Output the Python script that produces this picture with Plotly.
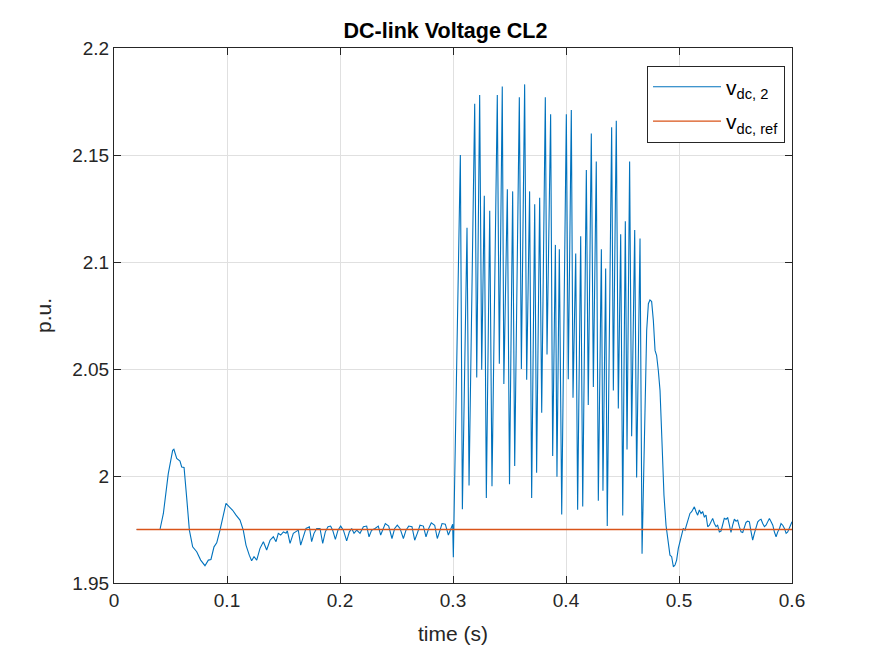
import plotly.graph_objects as go

# v_dc,2 samples (time in s, voltage in p.u.)
t_vdc2 = [
    0.0200, 0.0407, 0.0437, 0.0480, 0.0519, 0.0530, 0.0555, 0.0584, 0.0599, 0.0620,
    0.0643, 0.0667, 0.0696, 0.0732, 0.0767, 0.0805, 0.0835, 0.0858, 0.0885, 0.0909,
    0.0938, 0.0967, 0.0991, 0.1020, 0.1050, 0.1080, 0.1115, 0.1144, 0.1168, 0.1197,
    0.1218, 0.1239, 0.1263, 0.1292, 0.1322, 0.1351, 0.1381, 0.1410, 0.1434, 0.1454,
    0.1475, 0.1499, 0.1522, 0.1534, 0.1558, 0.1587, 0.1611, 0.1631, 0.1652, 0.1676,
    0.1699, 0.1729, 0.1749, 0.1770, 0.1794, 0.1823, 0.1847, 0.1870, 0.1894, 0.1917,
    0.1935, 0.1959, 0.1982, 0.2006, 0.2030, 0.2059, 0.2083, 0.2103, 0.2124, 0.2148,
    0.2177, 0.2207, 0.2236, 0.2257, 0.2280, 0.2310, 0.2339, 0.2360, 0.2378, 0.2401,
    0.2431, 0.2460, 0.2484, 0.2507, 0.2531, 0.2561, 0.2584, 0.2608, 0.2637, 0.2661,
    0.2684, 0.2708, 0.2738, 0.2761, 0.2785, 0.2808, 0.2838, 0.2861, 0.2885, 0.2903,
    0.2932, 0.2959, 0.2979, 0.2997, 0.3003,
    0.3065, 0.3083, 0.3124, 0.3142, 0.3192, 0.3210, 0.3236, 0.3254, 0.3277, 0.3295,
    0.3325, 0.3345, 0.3392, 0.3410, 0.3436, 0.3450, 0.3481, 0.3500, 0.3528, 0.3546,
    0.3587, 0.3605, 0.3634, 0.3652, 0.3678, 0.3696, 0.3723, 0.3740, 0.3767, 0.3785,
    0.3817, 0.3832, 0.3864, 0.3882, 0.3906, 0.3920, 0.3941, 0.3962, 0.4003, 0.4020,
    0.4047, 0.4062, 0.4086, 0.4103, 0.4130, 0.4148, 0.4180, 0.4197, 0.4224, 0.4242,
    0.4268, 0.4286, 0.4313, 0.4327, 0.4351, 0.4365, 0.4404, 0.4419, 0.4445, 0.4463,
    0.4484, 0.4502, 0.4525, 0.4540, 0.4563, 0.4581, 0.4608, 0.4625, 0.4655, 0.4673,
    0.4690, 0.4714, 0.4729, 0.4743, 0.4758, 0.4773, 0.4788, 0.4802, 0.4817, 0.4832,
    0.4848, 0.4867, 0.4885, 0.4906, 0.4920, 0.4935, 0.4950, 0.4965, 0.4979, 0.4994,
    0.5009, 0.5024, 0.5038, 0.5053, 0.5068, 0.5083, 0.5097, 0.5112, 0.5127, 0.5136,
    0.5151, 0.5165, 0.5180, 0.5195, 0.5210, 0.5224, 0.5239, 0.5254, 0.5269, 0.5283,
    0.5298, 0.5313, 0.5328, 0.5342, 0.5357, 0.5372, 0.5387, 0.5401, 0.5416, 0.5431,
    0.5446, 0.5460, 0.5475, 0.5490, 0.5505, 0.5519, 0.5534, 0.5549, 0.5564, 0.5578,
    0.5593, 0.5608, 0.5623, 0.5638, 0.5652, 0.5667, 0.5682, 0.5697, 0.5711, 0.5726,
    0.5741, 0.5756, 0.5770, 0.5785, 0.5800, 0.5815, 0.5830, 0.5844, 0.5859, 0.5874,
    0.5889, 0.5903, 0.5918, 0.5933, 0.5948, 0.5962, 0.5977, 0.5992, 0.6000,
]
v_vdc2 = [
    1.9750, 1.9750, 1.9825, 2.0010, 2.0120, 2.0125, 2.0082, 2.0070, 2.0042, 2.0040,
    1.9900, 1.9747, 1.9669, 1.9646, 1.9607, 1.9581, 1.9607, 1.9610, 1.9669, 1.9688,
    1.9747, 1.9825, 1.9872, 1.9856, 1.9840, 1.9817, 1.9794, 1.9747, 1.9677, 1.9630,
    1.9604, 1.9623, 1.9607, 1.9662, 1.9693, 1.9654, 1.9700, 1.9716, 1.9693, 1.9732,
    1.9724, 1.9739, 1.9732, 1.9744, 1.9685, 1.9732, 1.9739, 1.9747, 1.9677, 1.9716,
    1.9755, 1.9763, 1.9693, 1.9732, 1.9755, 1.9755, 1.9685, 1.9739, 1.9763, 1.9766,
    1.9747, 1.9704, 1.9747, 1.9766, 1.9747, 1.9697, 1.9739, 1.9755, 1.9732, 1.9747,
    1.9732, 1.9763, 1.9766, 1.9716, 1.9747, 1.9755, 1.9766, 1.9724, 1.9747, 1.9778,
    1.9766, 1.9708, 1.9755, 1.9770, 1.9755, 1.9708, 1.9747, 1.9766, 1.9763, 1.9700,
    1.9732, 1.9770, 1.9766, 1.9716, 1.9755, 1.9781, 1.9770, 1.9708, 1.9747, 1.9778,
    1.9775, 1.9724, 1.9750, 1.9775, 1.9620,
    2.1500, 1.9845, 2.1160, 1.9956, 2.1740, 2.0460, 2.1780, 2.0497, 2.1310, 1.9897,
    2.1240, 1.9952, 2.1780, 2.0525, 2.1820, 2.0430, 2.1340, 1.9962, 2.1330, 2.0047,
    2.1770, 2.0500, 2.1830, 2.0450, 2.1330, 1.9897, 2.1270, 2.0015, 2.1300, 2.0296,
    2.1770, 2.0568, 2.1690, 2.0094, 2.1080, 1.9996, 2.1060, 1.9820, 2.1690, 2.0452,
    2.1710, 2.0366, 2.1040, 1.9842, 2.1120, 1.9858, 2.1430, 2.0332, 2.1600, 2.0416,
    2.1470, 1.9884, 2.1060, 1.9931, 2.0970, 1.9766, 2.1630, 2.0400, 2.1660, 2.0316,
    2.1130, 1.9816, 2.1190, 2.0124, 2.1470, 2.0186, 2.1150, 1.9993, 2.1110, 1.9637,
    2.0136, 2.0680, 2.0805, 2.0823, 2.0815, 2.0727, 2.0587, 2.0563, 2.0493, 2.0400,
    2.0180, 1.9910, 1.9770, 1.9677, 1.9630, 1.9623, 1.9576, 1.9584, 1.9607, 1.9662,
    1.9693, 1.9732, 1.9755, 1.9747, 1.9778, 1.9802, 1.9825, 1.9833, 1.9848, 1.9856,
    1.9833, 1.9817, 1.9841, 1.9825, 1.9833, 1.9809, 1.9817, 1.9763, 1.9770, 1.9786,
    1.9802, 1.9778, 1.9763, 1.9770, 1.9739, 1.9743, 1.9770, 1.9802, 1.9798, 1.9805,
    1.9770, 1.9736, 1.9770, 1.9798, 1.9789, 1.9794, 1.9763, 1.9739, 1.9736, 1.9755,
    1.9783, 1.9789, 1.9786, 1.9739, 1.9700, 1.9732, 1.9755, 1.9786, 1.9794, 1.9798,
    1.9778, 1.9763, 1.9770, 1.9789, 1.9802, 1.9786, 1.9770, 1.9739, 1.9716, 1.9739,
    1.9755, 1.9778, 1.9770, 1.9755, 1.9732, 1.9739, 1.9755, 1.9770, 1.9786,
]

# reference voltage
t_ref = [0.02, 0.6]
v_ref = [1.975, 1.975]

x_ticks = [0, 0.1, 0.2, 0.3, 0.4, 0.5, 0.6]
x_labels = ["0", "0.1", "0.2", "0.3", "0.4", "0.5", "0.6"]
y_ticks = [1.95, 2.0, 2.05, 2.1, 2.15, 2.2]
y_labels = ["1.95", "2", "2.05", "2.1", "2.15", "2.2"]

font_name = "Liberation Sans, Arial, sans-serif"
ink = "#262626"

fig = go.Figure()
fig.add_trace(go.Scatter(x=t_vdc2, y=v_vdc2, mode="lines", name="v<sub>dc, 2</sub>",
                         legendgroup="a", line=dict(color="#0072BD", width=1.1)))
fig.add_trace(go.Scatter(x=t_ref, y=v_ref, mode="lines", name="v<sub>dc, ref</sub>",
                         legendgroup="b", line=dict(color="#D95319", width=1.3)))

axis_common = dict(
    showline=True, linecolor=ink, linewidth=1, mirror="ticks",
    ticks="inside", ticklen=7, tickcolor=ink, tickwidth=1,
    showgrid=True, gridcolor="#e0e0e0", gridwidth=1, zeroline=False,
    tickfont=dict(family=font_name, size=19, color=ink),
)

# the page body adds an 8px offset, so margins are shifted to compensate
fig.update_layout(
    width=875, height=656,
    margin=dict(l=106, r=91, t=40, b=81),
    paper_bgcolor="white", plot_bgcolor="white",
    title=dict(text="<b>DC-link Voltage CL2</b>", x=0.5, xanchor="center",
               y=0.965, yanchor="middle",
               font=dict(family=font_name, size=21.5, color="black")),
    xaxis=dict(range=[0, 0.6], tickvals=x_ticks, ticktext=x_labels,
               title=dict(text="time (s)", standoff=16,
                          font=dict(family=font_name, size=21, color=ink)),
               **axis_common),
    yaxis=dict(range=[1.95, 2.2], tickvals=y_ticks, ticktext=y_labels,
               title=dict(text="p.u.", standoff=14,
                          font=dict(family=font_name, size=21, color=ink)),
               **axis_common),
    legend=dict(x=0.9897, y=0.967, xanchor="right", yanchor="top",
                bgcolor="white", bordercolor=ink, borderwidth=1,
                itemwidth=68, traceorder="grouped", tracegroupgap=4,
                font=dict(family=font_name, size=21, color="black")),
    showlegend=True,
)

fig.write_html("out.html")
